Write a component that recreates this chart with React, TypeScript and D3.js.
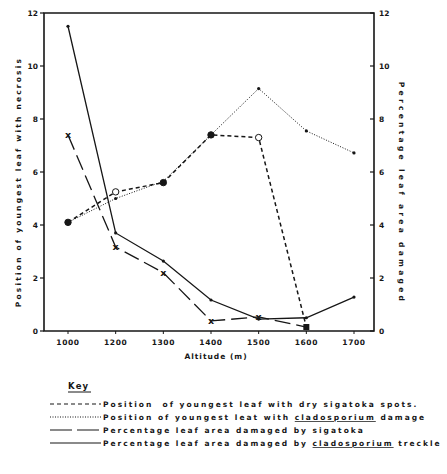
import React from 'react';
import * as d3 from 'd3';

// altitude categories (m)
const altitudes = ['1000', '1200', '1300', '1400', '1500', '1600', '1700'];
const yTicks = [0, 2, 4, 6, 8, 10, 12];

// position of youngest leaf with dry sigatoka spots (left axis)
const sigatokaPos = [4.1, 5.25, 5.6, 7.4, 7.3, 0.15, null];
const sigatokaPosMarks = ['filled', 'open', 'filled', 'filled', 'open', 'square', null];
// position of youngest leaf with cladosporium damage (left axis)
const cladoPos = [4.1, 5.0, 5.65, 7.4, 9.15, 7.55, 6.72];
// percentage leaf area damaged by sigatoka (right axis)
const sigatokaPct = [7.4, 3.17, 2.2, 0.38, 0.53, 0.15, null];
// percentage leaf area damaged by cladosporium freckle (right axis)
const cladoPct = [11.5, 3.7, 2.64, 1.17, 0.45, 0.5, 1.28];

const legendItems = [
  { dash: '4,3', parts: ['Position  of youngest leaf with dry sigatoka spots.'] },
  { dash: '1,1.5', parts: ['Position of youngest leat with ', 'cladosporium', ' damage'] },
  { dash: '22,5', parts: ['Percentage leaf area damaged by sigatoka'] },
  { dash: null, parts: ['Percentage leaf area damaged by ', 'cladosporium', ' treckle'] },
];

const ink = '#161616';
const font = '"DejaVu Sans", sans-serif';

export default function App() {
  const x = d3.scalePoint<string>().domain(altitudes).range([68, 354]);
  const y = d3.scaleLinear().domain([0, 12]).range([331, 13]);
  const left = 44, right = 374;

  const line = d3.line<[string, number | null]>()
    .defined(d => d[1] != null)
    .x(d => x(d[0]) as number)
    .y(d => y(d[1] as number));

  const pts = (vals: (number | null)[]) => altitudes.map((a, i) => [a, vals[i]] as [string, number | null]);

  return (
    <svg width={447} height={474} style={{ position: 'absolute', left: 0, top: 0, background: '#fff' }}
      fontFamily={font} fontWeight="bold" fill={ink}>
      {/* frame */}
      <path d={`M${left},${y(12)}V${y(0)}H${right}V${y(12)}Z`} fill="none" stroke={ink} strokeWidth={1.6} />
      {/* left axis */}
      {yTicks.map(t => (
        <g key={'l' + t}>
          <line x1={left - 4} x2={left} y1={y(t)} y2={y(t)} stroke={ink} strokeWidth={1.2} />
          <text x={left - 6} y={y(t) + 2.5} fontSize={7.5} textAnchor="end">{t}</text>
        </g>
      ))}
      {/* right axis */}
      {yTicks.map(t => (
        <g key={'r' + t}>
          <line x1={right - 4} x2={right} y1={y(t)} y2={y(t)} stroke={ink} strokeWidth={1.2} />
          <text x={right + 5} y={y(t) + 2.5} fontSize={7.5}>{t}</text>
        </g>
      ))}
      {/* x axis */}
      {altitudes.map(a => (
        <g key={a}>
          <line x1={x(a)} x2={x(a)} y1={y(0)} y2={y(0) + 3} stroke={ink} strokeWidth={1} />
          <text x={x(a)} y={y(0) + 14} fontSize={7.5} textAnchor="middle" letterSpacing={0.6}>{a}</text>
        </g>
      ))}
      <text x={216} y={359} fontSize={7.5} textAnchor="middle" letterSpacing={1}>Altitude (m)</text>
      <text transform={`translate(21,182) rotate(-90)`} fontSize={7.5} textAnchor="middle" letterSpacing={2.2}>
        Position of youngest leaf with necrosis
      </text>
      <text transform={`translate(399,193) rotate(90)`} fontSize={7.5} textAnchor="middle" letterSpacing={3.3}>
        Percentage leaf area damaged
      </text>

      {/* series */}
      <path d={line(pts(cladoPos)) || ''} fill="none" stroke={ink} strokeWidth={1} strokeDasharray="1,1.6" />
      <path d={line(pts(sigatokaPos)) || ''} fill="none" stroke={ink} strokeWidth={1.5} strokeDasharray="4,3" />
      <path d={line(pts(sigatokaPct)) || ''} fill="none" stroke={ink} strokeWidth={1.3} strokeDasharray="16,6" />
      <path d={line(pts(cladoPct)) || ''} fill="none" stroke={ink} strokeWidth={1.3} />

      {cladoPos.map((v, i) => v == null ? null : (
        <circle key={'cp' + i} cx={x(altitudes[i])} cy={y(v)} r={1.6} fill={ink} />
      ))}
      {cladoPct.map((v, i) => v == null ? null : (
        <circle key={'cc' + i} cx={x(altitudes[i])} cy={y(v)} r={1.6} fill={ink} />
      ))}
      {sigatokaPct.map((v, i) => v == null || i === 5 ? null : (
        <text key={'sx' + i} x={x(altitudes[i])} y={y(v) + 3.5} fontSize={9.5} textAnchor="middle">x</text>
      ))}
      {sigatokaPos.map((v, i) => {
        if (v == null) return null;
        const cx = x(altitudes[i]) as number, cy = y(v);
        const m = sigatokaPosMarks[i];
        if (m === 'square') return <rect key={'sp' + i} x={cx - 3} y={cy - 3} width={6} height={6} fill={ink} />;
        return <circle key={'sp' + i} cx={cx} cy={cy} r={3.2} fill={m === 'open' ? '#fff' : ink} stroke={ink} strokeWidth={1} />;
      })}

      {/* key */}
      <text x={68} y={389} fontSize={8.5} letterSpacing={1.2}>Key</text>
      <line x1={68} x2={91} y1={392} y2={392} stroke={ink} strokeWidth={1} />
      {legendItems.map((it, i) => {
        const ly = 404 + i * 13;
        return (
          <g key={'k' + i}>
            <line x1={50} x2={101} y1={ly} y2={ly} stroke={ink} strokeWidth={1.2}
              strokeDasharray={it.dash || undefined} />
            <text x={103} y={ly + 3} fontSize={7.5} letterSpacing={2.0} style={{ whiteSpace: 'pre' }}>
              {it.parts.map((p, j) => (
                <tspan key={j} textDecoration={p === 'cladosporium' ? 'underline' : undefined}>{p}</tspan>
              ))}
            </text>
          </g>
        );
      })}
    </svg>
  );
}
